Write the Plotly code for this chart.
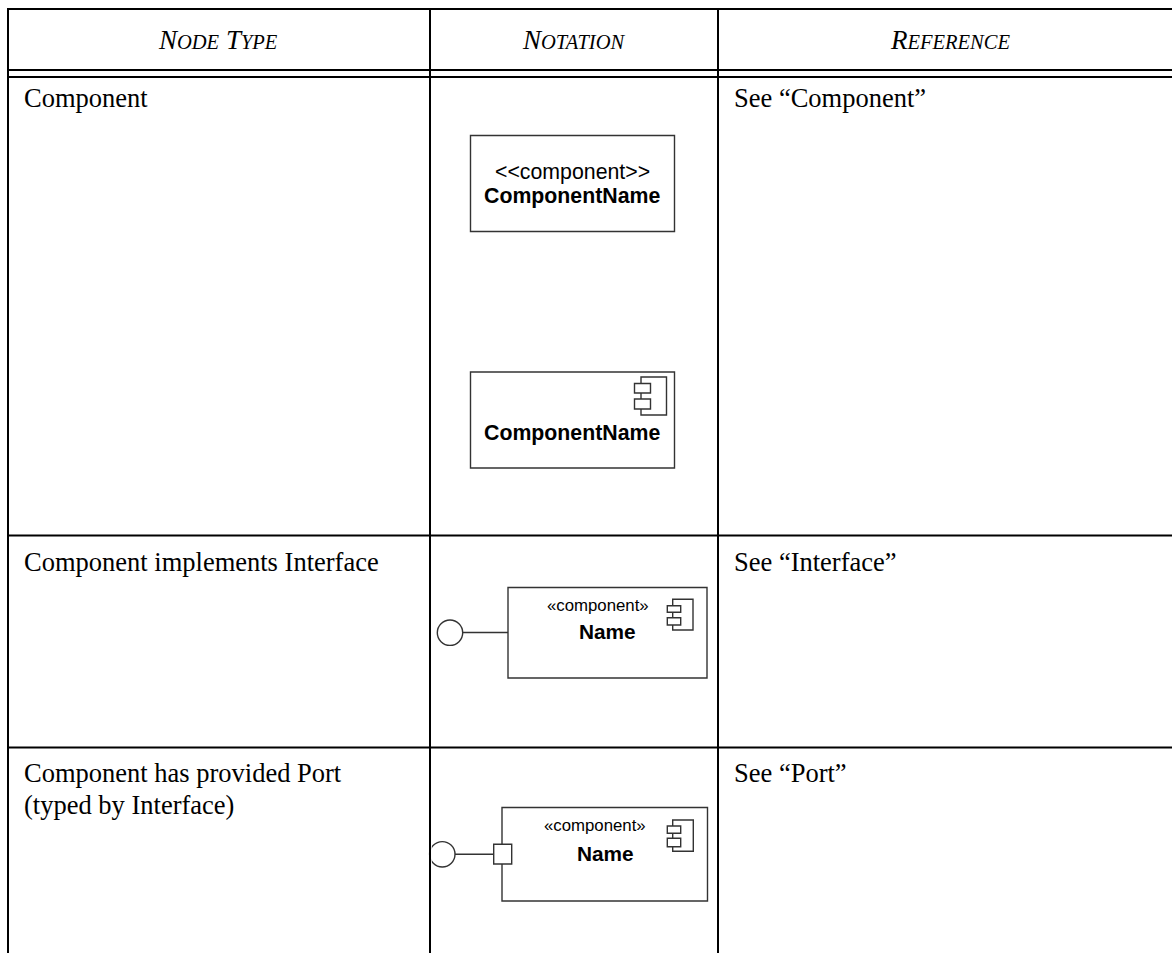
import plotly.graph_objects as go

W, H = 1172, 953
INK = "#000000"
GREY = "#333333"
SERIF = "Liberation Serif"
SANS = "Liberation Sans"

# (x0, y0, x1, y1) of every table rule
table_rules = [
    (7, 9, 1172, 9), (7, 70, 1172, 70), (7, 77, 1172, 77),
    (7, 535.5, 1172, 535.5), (7, 747.5, 1172, 747.5),
    (8, 8, 8, 953), (430, 8, 430, 953), (718, 8, 718, 953),
]
# (x0, y0, x1, y1) of diagram boxes
boxes = [
    (470.5, 135.5, 674.5, 231.5), (470.5, 372, 674.5, 468),
    (508, 587.5, 707, 678), (502, 807.5, 707.5, 901),
]
icons_outer = [(641, 377, 666.5, 415), (672.7, 599.3, 693, 630), (672.7, 820, 693.3, 851.3)]
icons_small = [
    (634.5, 383.5, 650.5, 393), (634.5, 399, 650.5, 409),
    (667.3, 605.7, 680.7, 612.3), (667.3, 617.7, 680.7, 625),
    (667.3, 826, 680.7, 833.3), (667.3, 838.3, 680.7, 846.7),
]
connectors = [(462.7, 632.5, 508, 632.5), (455, 854.3, 494, 854.3)]
lollipops = [(450, 632.7, 12.7), (442.3, 854.3, 12.7)]
port = (493.7, 844.3, 511.7, 864)
circle_cut = (430.8, 842, 431.8, 867)

header_labels = ["NODE TYPE", "NOTATION", "REFERENCE"]
header_x = [218, 573, 950]
row_labels = ["Component", "Component implements Interface",
              "Component has provided Port", "(typed by Interface)"]
row_label_y = [98, 561.5, 773, 805]
ref_labels = ["See “Component”", "See “Interface”", "See “Port”"]
ref_label_y = [98, 561.5, 773]
sans_labels = [
    ("<<component>>", 572, 171.5, 21.3, False),
    ("ComponentName", 572, 196, 21.3, True),
    ("ComponentName", 572, 432.5, 21.3, True),
    ("«component»", 598, 605, 16.8, False),
    ("Name", 607, 631.5, 20.8, True),
    ("«component»", 595, 825.5, 16.8, False),
    ("Name", 605, 853, 20.8, True),
]


def small_caps(text):
    out = ""
    for w_i, word in enumerate(text.split(" ")):
        if w_i:
            out += " "
        out += word[0] + '<span style="font-size:20.5px">' + word[1:] + "</span>"
    return "<i>" + out + "</i>"


shapes = []
for x0, y0, x1, y1 in table_rules:
    shapes.append(dict(type="line", x0=x0, y0=y0, x1=x1, y1=y1, line=dict(color=INK, width=2)))
for x0, y0, x1, y1 in boxes + icons_outer:
    shapes.append(dict(type="rect", x0=x0, y0=y0, x1=x1, y1=y1, line=dict(color=GREY, width=1.4), fillcolor="rgba(0,0,0,0)"))
for x0, y0, x1, y1 in icons_small + [port]:
    shapes.append(dict(type="rect", x0=x0, y0=y0, x1=x1, y1=y1, line=dict(color=GREY, width=1.4), fillcolor="white"))
for x0, y0, x1, y1 in connectors:
    shapes.append(dict(type="line", x0=x0, y0=y0, x1=x1, y1=y1, line=dict(color=GREY, width=1.4)))
for cx, cy, r in lollipops:
    shapes.append(dict(type="circle", x0=cx - r, y0=cy - r, x1=cx + r, y1=cy + r, line=dict(color=GREY, width=1.4), fillcolor="white"))
x0, y0, x1, y1 = circle_cut
shapes.append(dict(type="rect", x0=x0, y0=y0, x1=x1, y1=y1, line=dict(width=0), fillcolor="white"))
shapes.append(dict(type="line", x0=430, y0=748, x1=430, y1=953, line=dict(color=INK, width=2)))

ann = []


def text(t, x, y, size, family, anchor="left", yanchor="middle"):
    ann.append(dict(text=t, x=x, y=y, xref="x", yref="y", showarrow=False, xanchor=anchor, yanchor=yanchor,
                    font=dict(family=family, size=size, color=INK), align="left", borderpad=0, borderwidth=0))


for label, x in zip(header_labels, header_x):
    text(small_caps(label), x, 40, 27, SERIF, "center")
for label, y in zip(row_labels, row_label_y):
    text(label, 24, y, 26.5, SERIF)
for label, y in zip(ref_labels, ref_label_y):
    text(label, 734, y, 26.5, SERIF)
for t, x, y, size, bold in sans_labels:
    text("<b>" + t + "</b>" if bold else t.replace("<", "&lt;").replace(">", "&gt;"), x, y, size, SANS, "center")

fig = go.Figure()
fig.update_layout(
    width=W, height=H, margin=dict(l=0, r=0, t=0, b=0), showlegend=False,
    paper_bgcolor="white", plot_bgcolor="white", shapes=shapes, annotations=ann,
    xaxis=dict(range=[0, W], visible=False, fixedrange=True),
    yaxis=dict(range=[H, 0], visible=False, fixedrange=True),
)
fig.write_html("out.html", config=dict(displayModeBar=False),
               post_script="document.body.style.margin='0';document.documentElement.style.overflow='hidden';")
